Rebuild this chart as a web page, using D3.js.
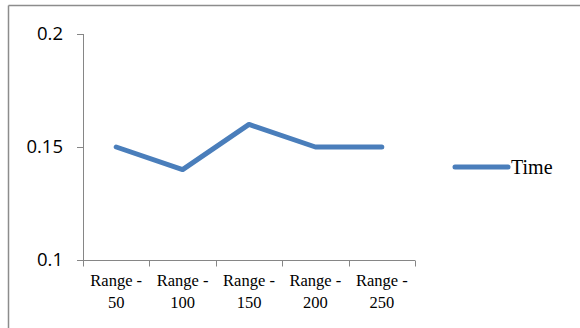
<!DOCTYPE html>
<html><head><meta charset="utf-8">
<script src="https://cdn.jsdelivr.net/npm/d3@7"></script>
<style>body{margin:0;background:#fff}svg{display:block}</style>
</head><body>
<script>
const categories = ["Range - 50","Range - 100","Range - 150","Range - 200","Range - 250"];
const timeValues = [0.15, 0.14, 0.16, 0.15, 0.15];
const yTicks = [0.1, 0.15, 0.2];
const seriesName = "Time";

const W = 580, H = 328;
const svg = d3.select("body").append("svg").attr("width", W).attr("height", H);

// outer border (left and top visible)
svg.append("line").attr("x1",8.5).attr("x2",8.5).attr("y1",5.5).attr("y2",H).attr("stroke","#8c8c8c").attr("stroke-width",1.5);
svg.append("line").attr("x1",8.5).attr("x2",W).attr("y1",5.5).attr("y2",5.5).attr("stroke","#8c8c8c").attr("stroke-width",1.5);

const x = d3.scaleBand().domain(categories).range([83, 415]);
const y = d3.scaleLinear().domain([0.1, 0.2]).range([260, 34]);

const axisColor = "#868686";
// y axis
const yAxis = svg.append("g").attr("transform","translate(83,0)")
  .call(d3.axisLeft(y).tickValues(yTicks).tickSize(6).tickPadding(14).tickFormat(d3.format("")));
yAxis.select(".domain").attr("stroke",axisColor).attr("d","M0.5,34V260.5");
yAxis.selectAll(".tick line").attr("stroke",axisColor).attr("x1",0.5).attr("x2",-6);
yAxis.selectAll(".tick text").attr("font-family","'Open Sans', 'Noto Sans', sans-serif").attr("font-size",18.5).attr("fill","#000");

// x axis
const xAxis = svg.append("g").attr("transform","translate(0,260.5)");
xAxis.append("line").attr("x1",83).attr("x2",415).attr("y1",0).attr("y2",0).attr("stroke",axisColor);
const edges = categories.map(c => x(c)).concat([x.range()[1]]);
xAxis.selectAll("line.tk").data(edges).enter().append("line").attr("class","tk")
  .attr("x1",d=>Math.round(d)+0.5).attr("x2",d=>Math.round(d)+0.5).attr("y1",0).attr("y2",6).attr("stroke",axisColor);
const lbl = xAxis.selectAll("text.cl").data(categories).enter().append("text").attr("class","cl")
  .attr("text-anchor","middle").attr("font-family","'Liberation Serif','Times New Roman',serif").attr("font-size",16.5).attr("fill","#000");
lbl.each(function(d){
  const t = d3.select(this);
  const cx = x(d) + x.bandwidth()/2;
  const parts = d.split(" - ");
  t.append("tspan").attr("x",cx).attr("y",25.5).text(parts[0] + " -");
  t.append("tspan").attr("x",cx).attr("y",47).text(parts[1]);
});

// line
const line = d3.line().x((d,i)=>x(categories[i]) + x.bandwidth()/2).y(d=>y(d));
svg.append("path").datum(timeValues).attr("d",line).attr("fill","none")
  .attr("stroke","#4a7ebb").attr("stroke-width",5).attr("stroke-linejoin","round").attr("stroke-linecap","round");

// legend
svg.append("line").attr("x1",455).attr("x2",508).attr("y1",167).attr("y2",167)
  .attr("stroke","#4a7ebb").attr("stroke-width",5).attr("stroke-linecap","round");
svg.append("text").attr("x",511).attr("y",174).attr("font-family","'Liberation Serif','Times New Roman',serif")
  .attr("font-size",20).attr("fill","#000").text(seriesName);
</script>
</body></html>
